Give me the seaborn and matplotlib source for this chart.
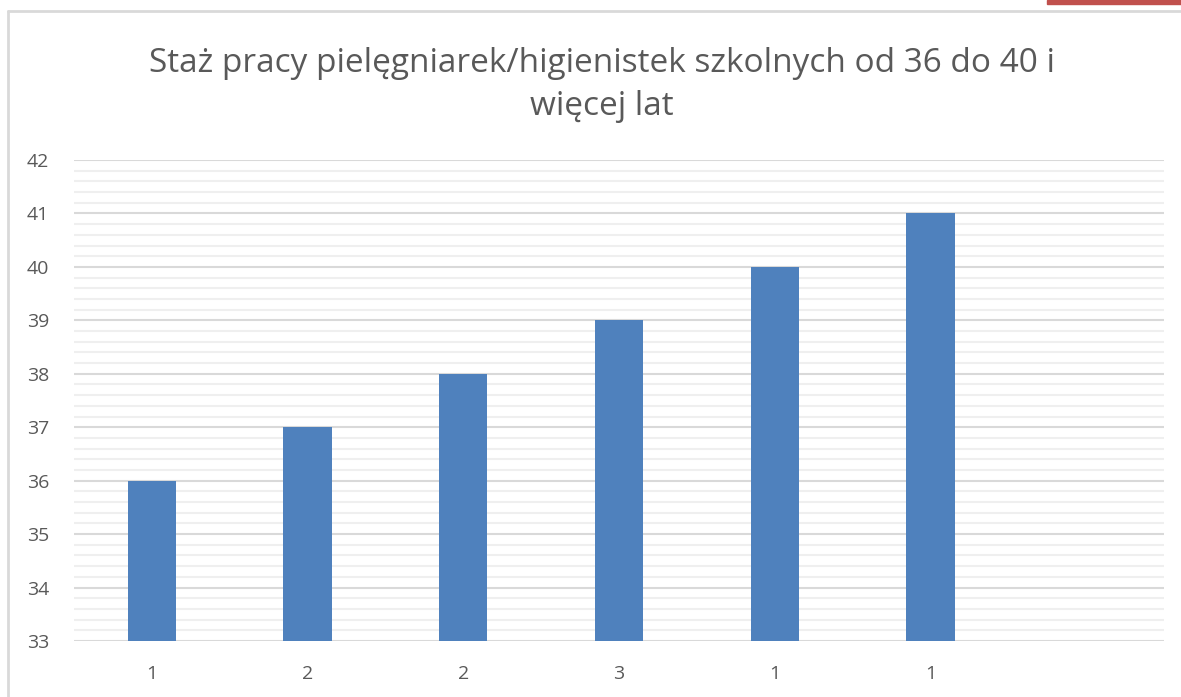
import numpy as np
import pandas as pd
import matplotlib.pyplot as plt
import seaborn as sns
from matplotlib.patches import Rectangle
from matplotlib.lines import Line2D
from matplotlib.ticker import MultipleLocator

# dane
years = [36, 37, 38, 39, 40, 41]
counts = ['1', '2', '2', '3', '1', '1']
title = 'Staż pracy pielęgniarek/higienistek szkolnych od 36 do 40 i\nwięcej lat'

slots = [f'k{i}' for i in range(len(years) + 1)]  # ostatnia pozycja pusta
df = pd.DataFrame({'slot': slots[:len(years)], 'staz': years})

sns.set_theme(style='white')
plt.rcParams['font.family'] = ['Open Sans', 'DejaVu Sans']

W, H = 1181, 697
fig = plt.figure(figsize=(W / 100, H / 100), dpi=100)
ax = fig.add_axes([74 / W, 1 - 641 / H, (1164 - 74) / W, (641 - 160) / H])

sns.barplot(data=df, x='slot', y='staz', order=slots, color='#4f81bd',
            saturation=1, width=0.31, linewidth=0, ax=ax, zorder=3)

ax.set_ylim(33, 42)
ax.set_xlim(-0.5, len(slots) - 0.5)
ax.yaxis.set_major_locator(MultipleLocator(1))
ax.yaxis.set_minor_locator(MultipleLocator(0.2))
ax.grid(which='major', axis='y', color='#d9d9d9', lw=1.5, zorder=1)
ax.grid(which='minor', axis='y', color='#efefef', lw=1.5, zorder=0)
ax.grid(False, axis='x')
ax.set_xticks(range(len(slots)))
ax.set_xticklabels(counts + [''])
ax.set_xlabel('')
ax.set_ylabel('')
ax.tick_params(axis='both', which='both', length=0, labelsize=14, colors='#595959')
ax.tick_params(axis='y', pad=18)
ax.tick_params(axis='x', pad=17)
for s in ax.spines.values():
    s.set_visible(False)

fig.text(602 / W, 1 - 85 / H, title, ha='center', va='center', fontsize=24,
         color='#595959', linespacing=1.4)

# ramka wykresu i czerwony pasek u góry
fig.add_artist(Line2D([8 / W, 1], [1 - 11 / H, 1 - 11 / H], color='#d9d9d9', lw=2))
fig.add_artist(Line2D([8 / W, 8 / W], [1 - 11 / H, 0], color='#d9d9d9', lw=2))
fig.add_artist(Rectangle((1047 / W, 1 - 4 / H), (W - 1047) / W, 4 / H,
                         color='#c0504d', transform=fig.transFigure))

fig.savefig('out.png', dpi=100)
